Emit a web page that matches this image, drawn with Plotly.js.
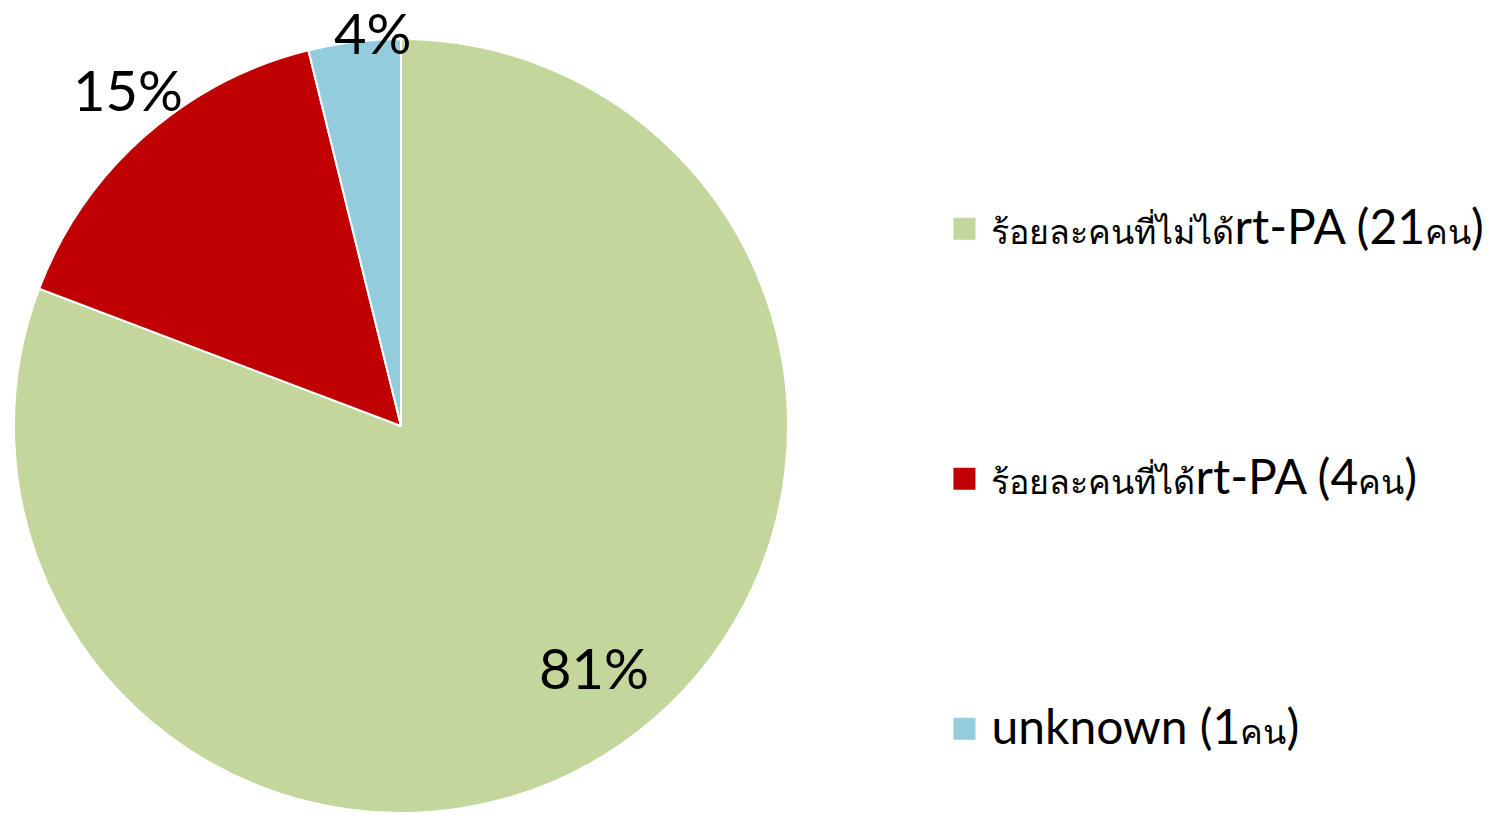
<!DOCTYPE html>
<html>
<head>
<meta charset="utf-8">
<script src="https://cdn.plot.ly/plotly-3.0.1.min.js"></script>
<style>html,body{margin:0;padding:0;background:#fff;}#chart{width:1496px;height:815px;}</style>
</head>
<body>
<div id="chart"></div>
<script>
const labels = ['ร้อยละคนที่ไม่ได้rt-PA (21คน)', 'ร้อยละคนที่ได้rt-PA (4คน)', 'unknown (1คน)'];
const values = [21, 4, 1];
const colors = ['#C3D69B', '#C00000', '#93CDDD'];

// style constants
const W = 1496, H = 815;
const domX = [14 / W, 788 / W];
const domY = [1 - 813 / H, 1 - 39 / H];
const labelRadius = [0.80, 1.12, 1.02];   // label distance from centre, fraction of radius
const labelAngleShift = [-4, 2.5, 2.8];   // degrees, nudge from the slice mid-angle
const labelFont = {family: 'Lato, "Open Sans", sans-serif', size: 56, color: '#000000'};

// legend text: Latin runs larger, Thai runs smaller (as in the original)
const pad = '<br><br><br><br>';
const styleRuns = s => s.replace(/([\u0E00-\u0E7F]+)|([^\u0E00-\u0E7F]+)/g, (m, thai, lat) =>
  thai ? '<span style="font-size:34px">' + thai + '</span>' : '<span style="font-size:48px">' + lat + '</span>');
const legendLabels = labels.map(l => pad + styleRuns(l));

const trace = {
  type: 'pie',
  labels: legendLabels,
  values: values,
  sort: false,
  direction: 'clockwise',
  rotation: 0,
  marker: {colors: colors, line: {color: '#ffffff', width: 2}},
  textinfo: 'none',
  automargin: false,
  domain: {x: domX, y: domY},
  hoverinfo: 'none'
};

// percent labels placed around each slice's mid-angle
const total = values.reduce((a, b) => a + b, 0);
const cxPx = (domX[0] + domX[1]) / 2 * W;
const cyPx = (1 - (domY[0] + domY[1]) / 2) * H;
const Rpx = Math.min((domX[1] - domX[0]) * W, (domY[1] - domY[0]) * H) / 2;
let cum = 0;
const annotations = values.map((v, i) => {
  const mid = (cum + v / 2) / total * 2 * Math.PI + labelAngleShift[i] * Math.PI / 180;
  cum += v;
  const r = Rpx * labelRadius[i];
  const x = cxPx + r * Math.sin(mid);
  const y = cyPx - r * Math.cos(mid);
  return {
    xref: 'paper', yref: 'paper', x: x / W, y: 1 - y / H,
    xanchor: 'center', yanchor: 'middle', showarrow: false,
    text: Math.round(v / total * 100) + '%',
    font: labelFont
  };
});

const layout = {
  width: W, height: H,
  margin: {l: 0, r: 0, t: 0, b: 0, autoexpand: false},
  paper_bgcolor: '#ffffff',
  showlegend: true,
  annotations: annotations,
  legend: {
    x: 0.636, y: 1, xanchor: 'left', yanchor: 'top',
    font: {family: 'Lato, "Noto Sans", "DejaVu Sans", sans-serif', size: 38, color: '#000000'},
    valign: 'bottom',
    bgcolor: 'rgba(0,0,0,0)'
  }
};

Plotly.newPlot('chart', [trace], layout, {displayModeBar: false, staticPlot: true}).then(gd => {
  gd.querySelectorAll('.legendpoints path').forEach(p => p.setAttribute('d', 'M5,12H-19V-12H5Z'));
});
</script>
</body>
</html>
